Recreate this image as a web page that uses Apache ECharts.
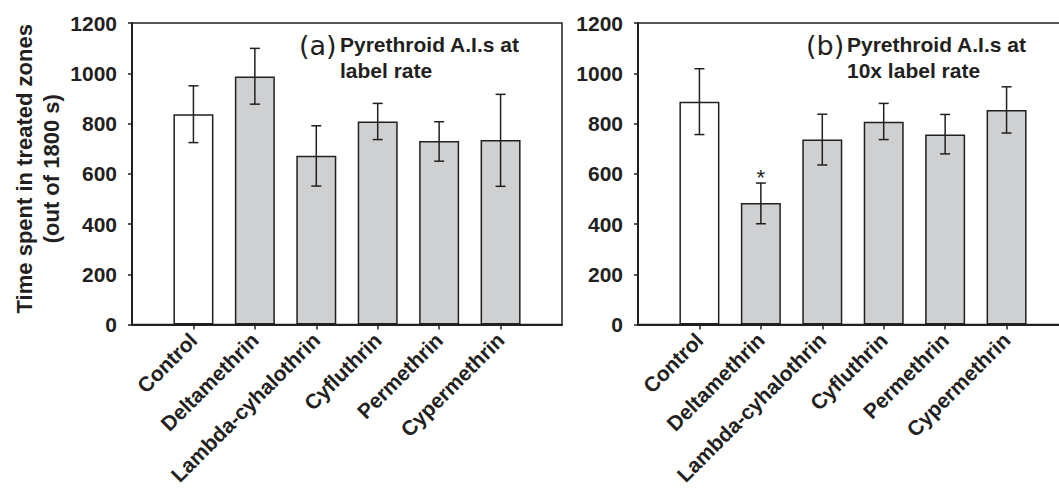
<!DOCTYPE html>
<html>
<head>
<meta charset="utf-8">
<script src="https://cdn.jsdelivr.net/npm/echarts@6/dist/echarts.min.js"></script>
<style>
html,body{margin:0;padding:0;background:#fff;}
#chart{width:1059px;height:490px;}
</style>
</head>
<body>
<div id="chart"></div>
<script>
// ---- data ----
const categories = ['Control', 'Deltamethrin', 'Lambda-cyhalothrin', 'Cyfluthrin', 'Permethrin', 'Cypermethrin'];
const meanA = [837, 987, 672, 808, 730, 734];
const lowA  = [724, 877, 551, 736, 650, 550];
const highA = [950, 1099, 791, 880, 807, 916];
const meanB = [887, 484, 736, 807, 756, 854];
const lowB  = [756, 401, 635, 736, 679, 762];
const highB = [1018, 563, 837, 880, 836, 946];
const sigB  = ['', '*', '', '', '', ''];
const sigA  = ['', '', '', '', '', ''];
const yMin = 0, yMax = 1200, yStep = 200;
const titleA = ['(a)', 'Pyrethroid A.I.s at\nlabel rate'];
const titleB = ['(b)', 'Pyrethroid A.I.s at\n10x label rate'];
const yName = 'Time spent in treated zones\n(out of 1800 s)';

// ---- styling ----
const INK = '#231f20';
const FONT = '"Liberation Sans", Arial, Helvetica, sans-serif';
const catIdx = categories.map((c, i) => i);

function xAxis(g) {
  return {
    type: 'value', gridIndex: g, min: -1, max: 6,
    axisLine: { show: true, onZero: false, lineStyle: { color: INK, width: 2 } },
    axisTick: { show: true, customValues: catIdx, length: 5, lineStyle: { color: INK, width: 1.5 } },
    axisLabel: {
      customValues: catIdx, formatter: v => categories[Math.round(v)],
      rotate: 45, margin: 12, color: INK, fontSize: 21, fontWeight: 'bold', fontFamily: FONT
    },
    splitLine: { show: false }
  };
}
function yAxis(g, name) {
  return {
    type: 'value', gridIndex: g, min: yMin, max: yMax, interval: yStep,
    name: name || '', nameLocation: 'middle', nameGap: 67, nameRotate: 90,
    nameTextStyle: { color: INK, fontSize: 22, fontWeight: 'bold', fontFamily: FONT, lineHeight: 27, align: 'center', padding: [0, 0, 0, 10] },
    axisLine: { show: true, onZero: false, lineStyle: { color: INK, width: 2 } },
    axisTick: { show: true, length: 4, lineStyle: { color: INK, width: 1.5 } },
    axisLabel: { margin: 15, color: INK, fontSize: 21, fontWeight: 'bold', fontFamily: FONT, formatter: v => String(v) },
    splitLine: { show: false }
  };
}
function barSeries(g, means) {
  return {
    type: 'bar', xAxisIndex: g, yAxisIndex: g, barWidth: 40, silent: true,
    data: means.map((v, i) => [i, v]),
    itemStyle: {
      color: p => (categories[p.dataIndex] === 'Control' ? '#ffffff' : '#cfd0d2'),
      borderColor: INK, borderWidth: 1.5
    },
    z: 2
  };
}
function errSeries(g, lows, highs, sig) {
  return {
    type: 'custom', xAxisIndex: g, yAxisIndex: g, silent: true, z: 5,
    data: lows.map((v, i) => [i, v, highs[i]]),
    encode: { x: 0, y: [1, 2] },
    renderItem: function (params, api) {
      const x = api.value(0);
      const lo = api.coord([x, api.value(1)]);
      const hi = api.coord([x, api.value(2)]);
      const cap = 5;
      const st = { stroke: INK, lineWidth: 1.5 };
      const kids = [
        { type: 'line', shape: { x1: lo[0], y1: lo[1], x2: hi[0], y2: hi[1] }, style: st },
        { type: 'line', shape: { x1: hi[0] - cap, y1: hi[1], x2: hi[0] + cap, y2: hi[1] }, style: st },
        { type: 'line', shape: { x1: lo[0] - cap, y1: lo[1], x2: lo[0] + cap, y2: lo[1] }, style: st }
      ];
      const s = sig[params.dataIndex];
      if (s) {
        kids.push({ type: 'text', style: { text: s, x: hi[0], y: hi[1] - 6, align: 'center', verticalAlign: 'middle', fill: INK, font: 'normal 22px ' + FONT } });
      }
      return { type: 'group', children: kids };
    }
  };
}
function titles(t, leftA, leftB) {
  return [
    { text: t[0], left: leftA, top: 32, padding: 0, textStyle: { color: INK, fontSize: 27, fontWeight: 'normal', fontFamily: '"DejaVu Sans", sans-serif' } },
    { text: t[1], left: leftB, top: 31, padding: 0, textAlign: 'left',
      textStyle: { color: INK, fontSize: 21, fontWeight: 'bold', fontFamily: FONT, lineHeight: 26, align: 'left' } }
  ];
}

const chart = echarts.init(document.getElementById('chart'), null, { renderer: 'svg' });
chart.setOption({
  animation: false,
  backgroundColor: '#ffffff',
  title: titles(titleA, 299, 340).concat(titles(titleB, 806, 847)),
  grid: [
    { left: 132, top: 23, width: 430, height: 301.5, outerBoundsMode: 'none', containLabel: false, show: true, borderColor: INK, borderWidth: 1.5, backgroundColor: 'transparent' },
    { left: 638, top: 23, width: 430, height: 301.5, outerBoundsMode: 'none', containLabel: false, show: true, borderColor: INK, borderWidth: 1.5, backgroundColor: 'transparent' }
  ],
  xAxis: [xAxis(0), xAxis(1)],
  yAxis: [yAxis(0, yName), yAxis(1)],
  series: [
    barSeries(0, meanA), errSeries(0, lowA, highA, sigA),
    barSeries(1, meanB), errSeries(1, lowB, highB, sigB)
  ]
});
</script>
</body>
</html>
